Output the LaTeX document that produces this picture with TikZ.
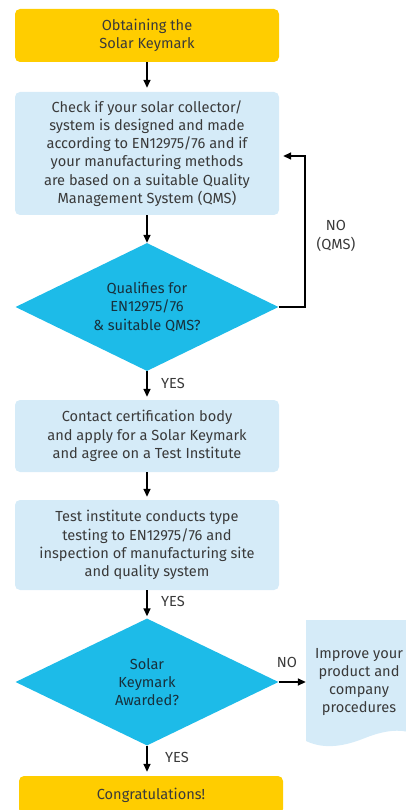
\documentclass[tikz,border=0pt]{standalone}
\usepackage{fontspec}
\setmainfont{Fira Sans}
\usetikzlibrary{shapes.geometric,arrows.meta}
\definecolor{keyyellow}{HTML}{FFCD00}
\definecolor{boxblue}{HTML}{D5EBF8}
\definecolor{diacyan}{HTML}{1DBBE8}
\definecolor{txtgray}{HTML}{3A3A3A}
\definecolor{diatxt}{HTML}{17303C}
\tikzset{
  yellowbox/.style={draw=none,fill=keyyellow,rounded corners=5pt,minimum width=264pt,inner sep=0pt,align=center,text=txtgray},
  bluebox/.style={draw=none,fill=boxblue,rounded corners=5pt,minimum width=264pt,inner sep=0pt,align=center,text=txtgray},
  decision/.style={diamond,aspect=2.05,draw=none,fill=diacyan,inner sep=0pt,minimum width=263pt,minimum height=128pt,align=center,text=diatxt},
  flow/.style={line width=1.6pt,-{Triangle[length=8pt,width=7pt]}},
  lbl/.style={text=txtgray,inner sep=0pt}
}
\begin{document}
\begin{tikzpicture}[x=1pt,y=-1pt,font=\fontsize{14.6}{18.2}\selectfont]
\useasboundingbox (0,0) rectangle (405,810);
\node[yellowbox,minimum height=53pt] (start) at (147,35.5) {Obtaining the\\Solar Keymark};
\node[bluebox,minimum height=123pt] (check) at (147,153.5) {Check if your solar collector/\\system is designed and made\\according to EN12975/76 and if\\your manufacturing methods\\are based on a suitable Quality\\Management System (QMS)};
\node[decision] (q1) at (147,307) {Qualifies for\\EN12975/76\\\& suitable QMS?};
\node[bluebox,minimum height=72pt] (contact) at (147,436) {Contact certification body\\and apply for a Solar Keymark\\and agree on a Test Institute};
\node[bluebox,minimum height=90pt] (test) at (147,545) {Test institute conducts type\\testing to EN12975/76 and\\inspection of manufacturing site\\and quality system};
\node[decision,minimum height=127pt] (q2) at (147,682) {Solar\\Keymark\\Awarded?};
\node[yellowbox,minimum height=38pt] (congr) at (151,795) {Congratulations!};
% document shape
\fill[boxblue] (306,620) -- (306,741) .. controls (325,750) and (345,746) .. (365,738) .. controls (385,730) and (400,729) .. (412,733) -- (412,620) -- cycle;
\node[minimum width=106pt,minimum height=125pt,inner sep=0pt,align=center,text=txtgray] (improve) at (359,682) {Improve your\\product and\\company\\procedures};
% connectors
\draw[flow,shorten >=4pt] (start.south) -- (check.north);
\draw[flow] (check.south) -- (q1.north);
\draw[flow,shorten >=3pt] (q1.south) -- (contact.north);
\draw[flow,shorten >=3pt] (contact.south) -- (test.north);
\draw[flow,shorten >=2pt] (test.south) -- (q2.north);
\draw[flow,shorten >=4pt] (q2.south) -- (q2.south |- congr.north);
\draw[flow] (q2.east) -- (improve.west);
\coordinate (fb1) at (305,307);
\coordinate (fb2) at (305,156);
\draw[flow,shorten >=4pt] (q1.east) -- (fb1) -- (fb2) -- (check.east |- fb2);
% labels
\node[lbl,anchor=west] (yes1) at (161,383) {YES};
\node[lbl,anchor=west] (yes2) at (161,601) {YES};
\node[lbl,anchor=west] (yes3) at (165,757) {YES};
\node[lbl] (no2) at (287,662) {NO};
\node[lbl,align=center] (no1) at (336,236) {NO\\(QMS)};
\end{tikzpicture}
\end{document}
